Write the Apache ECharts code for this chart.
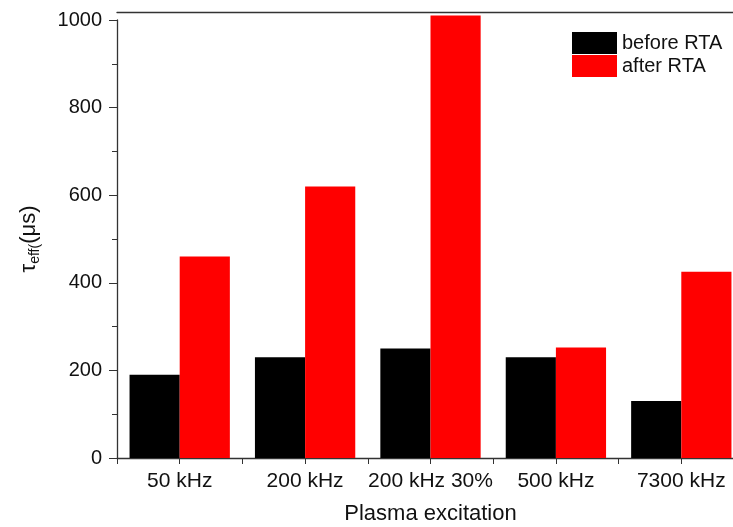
<!DOCTYPE html>
<html><head><meta charset="utf-8">
<script src="https://cdn.jsdelivr.net/npm/echarts@6/dist/echarts.min.js"></script>
<style>html,body{margin:0;padding:0;background:#fff;overflow:hidden}#c{width:733px;height:527px}</style>
</head><body><div id="c"></div>
<script>
var categories = ['50 kHz', '200 kHz', '200 kHz 30%', '500 kHz', '7300 kHz'];
var beforeRTA = [190, 230, 250, 230, 130];
var afterRTA = [460, 620, 1010, 252, 425];
var seriesNames = ['before RTA', 'after RTA'];
var yTicks = [0, 200, 400, 600, 800, 1000];

var FONT = 'Liberation Sans, Arial, sans-serif';
var chart = echarts.init(document.getElementById('c'), null, {renderer: 'canvas'});
chart.setOption({
  animation: false,
  backgroundColor: '#fff',
  textStyle: {fontFamily: FONT},
  grid: {left: 117, top: 20, width: 627, height: 438, containLabel: false, outerBoundsMode: 'none'},
  legend: {
    data: seriesNames, orient: 'vertical', left: 567, top: 27,
    itemWidth: 45, itemHeight: 22, itemGap: 1, icon: 'rect',
    textStyle: {fontSize: 20, color: '#111', fontFamily: FONT}
  },
  xAxis: [
    {type: 'category', data: categories, position: 'bottom',
     axisLine: {show: true, lineStyle: {color: '#333', width: 1.3}},
     axisTick: {show: false},
     axisLabel: {fontSize: 21, color: '#111', margin: 13, fontFamily: FONT, interval: 0},
     name: 'Plasma excitation', nameLocation: 'middle', nameGap: 45,
     nameTextStyle: {fontSize: 22, color: '#111', fontFamily: FONT}},
    {type: 'value', min: 0, max: 10, interval: 1, position: 'bottom', offset: 0,
     axisLine: {show: false}, axisLabel: {show: false}, splitLine: {show: false},
     axisTick: {show: true, length: 6, lineStyle: {color: '#333'}}},
    {type: 'value', min: 0, max: 10, position: 'top', offset: 8,
     axisLine: {show: true, lineStyle: {color: '#333', width: 1.3}},
     axisLabel: {show: false}, axisTick: {show: false}, splitLine: {show: false}}
  ],
  yAxis: {
    type: 'value', min: yTicks[0], max: yTicks[yTicks.length - 1], interval: 200,
    axisLine: {show: true, lineStyle: {color: '#333', width: 1.3}},
    axisTick: {show: true, length: 8, lineStyle: {color: '#333'}},
    minorTick: {show: true, splitNumber: 2, length: 5, lineStyle: {color: '#333'}},
    splitLine: {show: false},
    axisLabel: {fontSize: 20, color: '#111', margin: 15, fontFamily: FONT,
                formatter: function (v) { return String(v); }},
    name: '{t|τ}{s|eff(}{t|(μs)}', nameLocation: 'middle', nameGap: 75,
    nameTextStyle: {
      fontFamily: FONT, color: '#111',
      rich: {
        t: {fontSize: 22, fontFamily: FONT, color: '#111'},
        s: {fontSize: 14, fontFamily: FONT, color: '#111', verticalAlign: 'bottom', padding: [12, 0, 0, 0]}
      }
    }
  },
  series: [
    {name: seriesNames[0], type: 'bar', data: beforeRTA, xAxisIndex: 0, yAxisIndex: 0, clip: false,
     barWidth: '40%', barGap: '0%', itemStyle: {color: '#000'}},
    {name: seriesNames[1], type: 'bar', data: afterRTA, xAxisIndex: 0, yAxisIndex: 0, clip: false,
     barWidth: '40%', barGap: '0%', itemStyle: {color: '#ff0000'}}
  ]
});
</script></body></html>
